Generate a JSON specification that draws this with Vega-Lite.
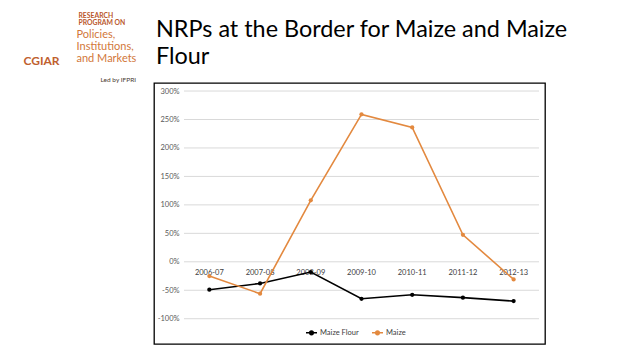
{
  "$schema": "https://vega.github.io/schema/vega-lite/v6.json",
  "width": 391,
  "height": 261,
  "autosize": {"type": "none"},
  "padding": {"left": 154, "top": 83, "right": 93, "bottom": 15},
  "background": "white",
  "config": {
    "view": {"stroke": "#000000", "strokeWidth": 1.3},
    "font": "Lato"
  },
  "title": {
    "text": ["NRPs at the Border for Maize and Maize", "Flour"],
    "anchor": "start",
    "frame": "group",
    "font": "Lato",
    "fontSize": 23.4,
    "fontWeight": "normal",
    "color": "#000000",
    "lineHeight": 27,
    "baseline": "top",
    "offset": 0,
    "dx": 2,
    "dy": 57
  },
  "layer": [
    {
      "data": {"values": [{"g": -1}, {"g": -0.5}, {"g": 0}, {"g": 0.5}, {"g": 1}, {"g": 1.5}, {"g": 2}, {"g": 2.5}, {"g": 3}]},
      "mark": {"type": "rule", "color": "#d9d9d9", "strokeWidth": 1},
      "encoding": {
        "x": {
          "datum": 0,
          "type": "quantitative",
          "scale": {"domain": [-0.5916, 7.118], "nice": false, "zero": false},
          "axis": {
            "labels": false, "ticks": false, "domain": false, "grid": false,
            "title": "Led by IFPRI",
            "titleX": -54, "titleY": -268,
            "titleAlign": "left", "titleBaseline": "top", "titleAngle": 0,
            "titleFont": "Lato", "titleFontSize": 6.5, "titleFontWeight": "normal",
            "titleColor": "#4a3a30"
          }
        },
        "x2": {"datum": 7},
        "y": {
          "field": "g",
          "type": "quantitative",
          "scale": {"domain": [-1.444, 3.141], "nice": false, "zero": false},
          "axis": {
            "labels": false, "ticks": false, "domain": false, "grid": false,
            "title": ["RESEARCH", "PROGRAM ON"],
            "titleX": -76, "titleY": -71,
            "titleAlign": "left", "titleBaseline": "top", "titleAngle": 0,
            "titleFont": "Lato", "titleFontSize": 6.8, "titleFontWeight": "bold",
            "titleLineHeight": 7,
            "titleColor": "#b9562a"
          }
        }
      }
    },
    {
      "data": {
        "values": [
          {"year": "2006-07", "series": "Maize Flour", "nrp": -0.49},
          {"year": "2007-08", "series": "Maize Flour", "nrp": -0.38},
          {"year": "2008-09", "series": "Maize Flour", "nrp": -0.18},
          {"year": "2009-10", "series": "Maize Flour", "nrp": -0.65},
          {"year": "2010-11", "series": "Maize Flour", "nrp": -0.58},
          {"year": "2011-12", "series": "Maize Flour", "nrp": -0.63},
          {"year": "2012-13", "series": "Maize Flour", "nrp": -0.69},
          {"year": "2006-07", "series": "Maize", "nrp": -0.25},
          {"year": "2007-08", "series": "Maize", "nrp": -0.56},
          {"year": "2008-09", "series": "Maize", "nrp": 1.08},
          {"year": "2009-10", "series": "Maize", "nrp": 2.59},
          {"year": "2010-11", "series": "Maize", "nrp": 2.36},
          {"year": "2011-12", "series": "Maize", "nrp": 0.475},
          {"year": "2012-13", "series": "Maize", "nrp": -0.31}
        ]
      },
      "mark": {"type": "line", "strokeWidth": 1.6, "point": {"filled": true, "size": 18}},
      "encoding": {
        "x": {
          "field": "year",
          "type": "nominal",
          "sort": null,
          "bandPosition": 0.5,
          "scale": {
            "type": "band",
            "domain": ["2006-07", "2007-08", "2008-09", "2009-10", "2010-11", "2011-12", "2012-13"],
            "paddingInner": 0,
            "paddingOuter": 0.355,
            "align": 0.833
          },
          "axis": {
            "orient": "bottom",
            "offset": -82,
            "ticks": false, "domain": false, "grid": false,
            "labelAngle": 0,
            "labelPadding": 6,
            "labelFont": "Lato", "labelFontSize": 7.5, "labelColor": "#404040",
            "title": "CGIAR",
            "titleX": -131, "titleY": -207,
            "titleAlign": "left", "titleBaseline": "top", "titleAngle": 0,
            "titleFont": "Lato", "titleFontSize": 12, "titleFontWeight": "bold",
            "titleColor": "#c0602e"
          }
        },
        "y": {
          "field": "nrp",
          "type": "quantitative",
          "scale": {"domain": [-1.444, 3.141], "nice": false, "zero": false},
          "axis": {
            "orient": "left",
            "offset": -30,
            "values": [-1, -0.5, 0, 0.5, 1, 1.5, 2, 2.5, 3],
            "labelExpr": "round(datum.value * 100) + '%'",
            "ticks": false, "domain": false, "grid": false,
            "labelPadding": 5,
            "labelFont": "Lato", "labelFontSize": 7.5, "labelColor": "#595959",
            "title": ["Policies,", "Institutions,", "and Markets"],
            "titleX": -108, "titleY": -55,
            "titleAlign": "left", "titleBaseline": "top", "titleAngle": 0,
            "titleFont": "Lato", "titleFontSize": 11, "titleFontWeight": "normal",
            "titleLineHeight": 12.3,
            "titleColor": "#d2773a"
          }
        },
        "color": {
          "field": "series",
          "type": "nominal",
          "scale": {"domain": ["Maize Flour", "Maize"], "range": ["#000000", "#E3893F"]},
          "legend": {
            "orient": "none",
            "legendX": 151,
            "legendY": 243,
            "direction": "horizontal",
            "title": null,
            "padding": 0,
            "labelFont": "Lato", "labelFontSize": 7.5, "labelColor": "#404040",
            "labelOffset": 2,
            "columnPadding": 10,
            "symbolType": "M-1,0H1M-0.33,0A0.33,0.33,0,1,1,0.33,0A0.33,0.33,0,1,1,-0.33,0Z",
            "symbolSize": 121,
            "symbolStrokeWidth": 1.5,
            "encode": {"symbols": {"update": {"fill": {"scale": "color", "field": "value"}, "stroke": {"scale": "color", "field": "value"}}}}
          }
        }
      }
    }
  ],
  "resolve": {"scale": {"x": "independent", "y": "independent"}}
}
